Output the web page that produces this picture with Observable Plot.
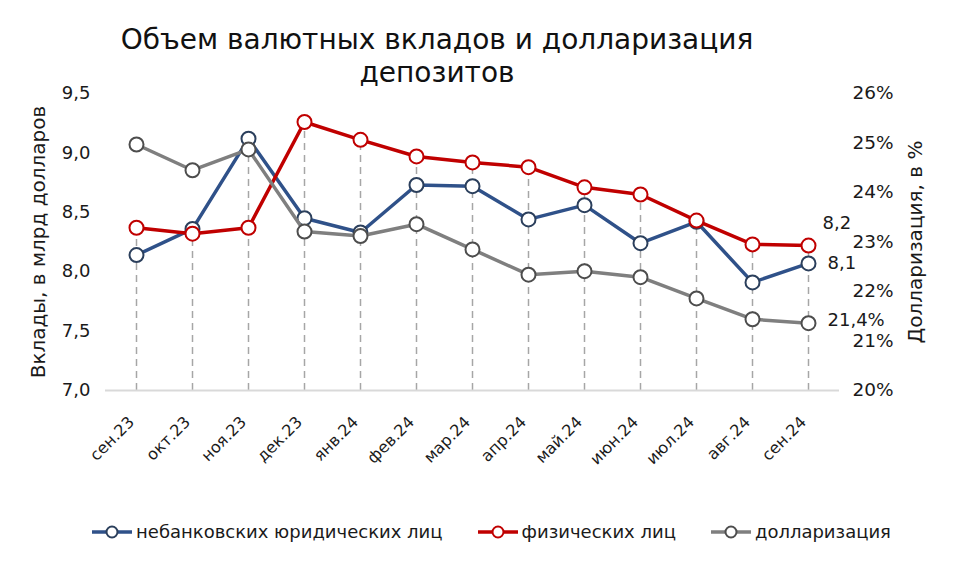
<!DOCTYPE html>
<html><head><meta charset="utf-8">
<script src="https://cdn.jsdelivr.net/npm/d3@7"></script>
<script src="https://cdn.jsdelivr.net/npm/@observablehq/plot@0.6"></script>
<style>
body{margin:0;background:#fff;font-family:"DejaVu Sans",sans-serif;color:#1a1a1a}
#wrap{position:relative;width:974px;height:562px;overflow:hidden}
#chart{position:absolute;left:0;top:0}
#title{position:absolute;left:0;top:23px;width:874px;text-align:center;font-size:28px;line-height:33px;color:#111}
#legend{position:absolute;left:0;top:521px;width:974px;display:flex;justify-content:center;gap:34px;font-size:18px;align-items:center;padding-left:8px;box-sizing:border-box}
.item{display:flex;align-items:center;gap:3px}
</style></head>
<body><div id="wrap"><div id="chart"></div><div id="title">Объем валютных вкладов и долларизация<br>депозитов</div><div id="legend"></div></div>
<script>
const months = ["сен.23","окт.23","ноя.23","дек.23","янв.24","фев.24","мар.24","апр.24","май.24","июн.24","июл.24","авг.24","сен.24"];
const legalEntities = [8.14,8.36,9.12,8.45,8.33,8.73,8.72,8.44,8.56,8.24,8.42,7.91,8.07];
const individuals = [8.37,8.32,8.37,9.26,9.11,8.97,8.92,8.88,8.71,8.65,8.43,8.23,8.22];
const dollarization = [24.97,24.45,24.87,23.21,23.12,23.36,22.85,22.34,22.41,22.29,21.86,21.44,21.36];
const leftTicks = [7.0,7.5,8.0,8.5,9.0,9.5];
const rightTicks = [20,21,22,23,24,25,26];
const seriesNames = ["небанковских юридических лиц","физических лиц","долларизация"];
const lineColors = ["#2f5189","#c00000","#7f7f7f"];
const markerStroke = ["#2b3f5c","#c00000","#4d4d4d"];

// map percent onto left axis domain
const toLeft = p => 7 + (p - 20) * (2.5 / 6);
const fromLeft = v => 20 + (v - 7) * (6 / 2.5);
const fmt1 = v => v.toFixed(1).replace(".", ",");

const rows = [];
months.forEach((m, i) => {
  rows.push({month: m, s: 0, v: legalEntities[i], y: legalEntities[i], i});
  rows.push({month: m, s: 1, v: individuals[i], y: individuals[i], i});
  rows.push({month: m, s: 2, v: dollarization[i], y: toLeft(dollarization[i]), i});
});
const drops = months.map((m, i) => ({month: m, top: Math.max(legalEntities[i], individuals[i])}));
const last = months.length - 1;

const lineMarks = [];
[0,1,2].forEach(s => {
  const d = rows.filter(r => r.s === s);
  lineMarks.push(Plot.line(d, {x: "month", y: "y", stroke: lineColors[s], strokeWidth: 3.5}));
  lineMarks.push(Plot.dot(d, {x: "month", y: "y", r: 7, fill: "white", stroke: markerStroke[s], strokeWidth: 2}));
});

const chart = Plot.plot({
  width: 974, height: 562,
  marginLeft: 105, marginRight: 135, marginTop: 93, marginBottom: 172,
  style: {fontFamily: "DejaVu Sans, sans-serif", fontSize: "18px", color: "#1a1a1a", background: "transparent"},
  x: {type: "band", domain: months, padding: 0},
  y: {domain: [7, 9.5]},
  marks: [
    Plot.ruleX(drops, {x: "month", y1: 7, y2: "top", stroke: "#a6a6a6", strokeWidth: 1.5, strokeDasharray: "7,5"}),
    Plot.ruleY([7], {stroke: "#d9d9d9", strokeWidth: 2}),
    Plot.axisX({tickRotate: -45, tickSize: 0, tickPadding: 29, dx: -5, label: null, fontSize: 16}),
    Plot.axisY(leftTicks, {anchor: "left", tickSize: 0, tickPadding: 15, tickFormat: fmt1, label: null, fontSize: 18}),
    Plot.axisY(rightTicks.map(toLeft), {anchor: "right", tickSize: 0, tickPadding: 13, tickFormat: d => Math.round(fromLeft(d)) + "%", label: null, fontSize: 18.5}),
    Plot.text(["Вклады, в млрд долларов"], {frameAnchor: "left", dx: -67, rotate: -90, textAnchor: "middle", fontSize: 20, text: d => d}),
    Plot.text(["Долларизация, в %"], {frameAnchor: "right", dx: 76, rotate: -90, textAnchor: "middle", fontSize: 20, text: d => d}),
    ...lineMarks,
    Plot.text(rows.filter(r => r.i === last && r.s === 1), {x: "month", y: "y", text: d => fmt1(d.v), textAnchor: "start", dx: 14, dy: -22, fontSize: 18}),
    Plot.text(rows.filter(r => r.i === last && r.s === 0), {x: "month", y: "y", text: d => fmt1(d.v), textAnchor: "start", dx: 19, fontSize: 18}),
    Plot.text(rows.filter(r => r.i === last && r.s === 2), {x: "month", y: "y", text: d => fmt1(d.v) + "%", textAnchor: "start", dx: 19, dy: -3, fontSize: 18})
  ]
});
document.getElementById("chart").appendChild(chart);

const legend = document.getElementById("legend");
seriesNames.forEach((name, s) => {
  const it = document.createElement("div");
  it.className = "item";
  it.innerHTML = `<svg width="42" height="16"><line x1="1" y1="8" x2="41" y2="8" stroke="${lineColors[s]}" stroke-width="3.5"/><circle cx="21" cy="8" r="5.5" fill="white" stroke="${markerStroke[s]}" stroke-width="2"/></svg><span>${name}</span>`;
  legend.appendChild(it);
});
</script></body></html>
